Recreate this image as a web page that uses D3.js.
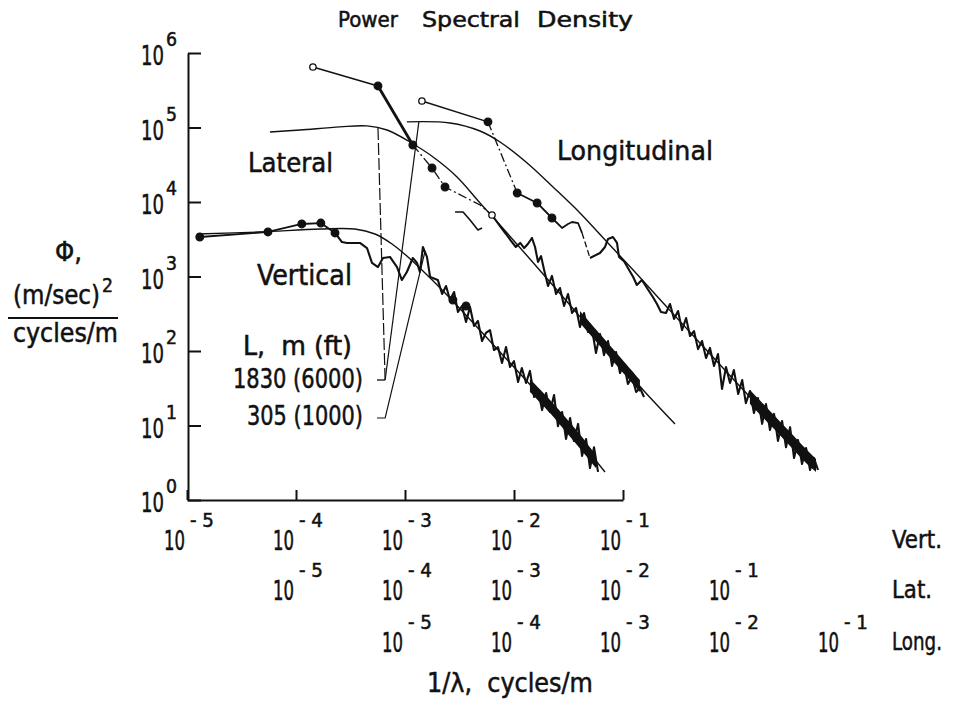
<!DOCTYPE html>
<html>
<head>
<meta charset="utf-8">
<script src="https://cdn.jsdelivr.net/npm/d3@7"></script>
<style>
body { margin: 0; background: #fff; }
svg { display: block; }
text { font-family: "DejaVu Sans Condensed", "DejaVu Sans", sans-serif; font-stretch: condensed; fill: #111; stroke: #111; stroke-width: 0.5; white-space: pre; }
.axis path, .axis line { stroke: #111; stroke-width: 2; }
</style>
</head>
<body>
<svg width="969" height="706"></svg>
<script>
// tick labels
var yTickExp = [0, 1, 2, 3, 4, 5, 6];
var xTickExp = [-5, -4, -3, -2, -1];
var rowNames = ["Vert.", "Lat.", "Long."];

// Vertical  [cycles/m, (m/sec)^2/(cycles/m)]
var vertTheory = [[1.24e-5,3720],[4.67e-5,3960],[1.66e-4,4340],[3.47e-4,4340],[5.3e-4,3720],[7.6e-4,2730],
  [1.04e-3,1880],[1.43e-3,1220],[2.33e-3,601],[7.44e-3,97],[2.64e-2,12.6],[6.84e-2,2.38]];
var vertPoints = [[1.31e-5,3390],[5.53e-5,3960],[1.13e-4,5070],[1.69e-4,5220],[2.28e-4,3840]];
var vertNoisePoints = [[2.75e-3,484],[3.63e-3,402]];
var vertTrace = [[2.28e-4,3840],[2.64e-4,2900],[2.94e-4,2820],[3.86e-4,2820],[4.48e-4,2410],[4.98e-4,1520],
  [5.65e-4,1340],[6.28e-4,1770],[7.28e-4,1830],[8.45e-4,1340],[9.37e-4,897],[1.04e-3,1150],[1.18e-3,1770],
  [1.29e-3,1520],[1.37e-3,1150],[1.46e-3,2490],[1.59e-3,1830],[1.70e-3,985],
  [2.0e-3,900],[2.19e-3,582],[2.38e-3,745],[2.59e-3,484],[2.82e-3,619],[3.06e-3,334],[3.33e-3,402],
  [3.63e-3,245],[3.95e-3,390],[4.3e-3,217],[4.67e-3,253],[5.09e-3,136],[5.53e-3,175],[6.02e-3,191],
  [6.55e-3,103],[7.13e-3,113],[7.76e-3,69],[8.45e-3,113],[9.19e-3,61],[1.0e-2,73],[1.09e-2,38.4],
  [1.18e-2,59],[1.29e-2,37.2],[1.40e-2,54],[1.53e-2,24.1],[1.66e-2,30],[1.81e-2,16.1],[1.97e-2,27.3],
  [2.14e-2,15.2],[2.33e-2,25.7],[2.53e-2,9.8],[2.76e-2,15.2],[3.0e-2,6.6],[3.27e-2,12.6],[3.55e-2,6.2],
  [3.87e-2,10.5],[4.21e-2,3.9],[4.58e-2,6.6],[4.98e-2,2.69],[5.42e-2,5.1],[5.9e-2,2.38]];
var vertBandF = [1.40e-2, 2.14e-2, 3.0e-2, 4.21e-2, 5.65e-2];
var vertBandHi = [42, 22, 12.6, 7.0, 4.0];
var vertBandLo = [28.2, 14.7, 8.2, 4.55, 2.69];

// Lateral
var latTheory = [[5.77e-6,8.7e4],[1.09e-5,9.25e4],[2.53e-5,1.02e5],[4.48e-5,1.05e5],[6.84e-5,9.25e4],
  [1.11e-4,6.39e4],[1.81e-4,4.02e4],[3.0e-4,2.17e4],[4.88e-4,9700],[7.44e-4,4910],[2.14e-3,844],
  [6.15e-3,140],[1.53e-2,30],[3.0e-2,10.5]];
var latOpen = [[1.43e-5,6.49e5],[6.28e-4,6690]];
var latFilled = [[5.65e-5,3.61e5],[1.18e-4,5.82e4],[1.77e-4,2.86e4],[2.33e-4,1.59e4]];
var latTop = [[1.43e-5,6.49e5],[5.65e-5,3.61e5]];
var latDrop = [[5.65e-5,3.61e5],[1.18e-4,5.82e4]];
var latDash = [[1.18e-4,5.82e4],[1.77e-4,2.86e4],[2.33e-4,1.59e4],[4.88e-4,9120],[6.28e-4,6690]];
var latWiggle = [[2.88e-4,7340],[3.41e-4,7340],[3.95e-4,5730],[4.67e-4,4210],[5.09e-4,4480]];
var latTrace = [[6.28e-4,6690],[7.44e-4,4760],[8.45e-4,3720],[9.39e-4,3000],[1.04e-3,2490],[1.14e-3,2820],
  [1.24e-3,2410],[1.34e-3,2730],[1.46e-3,3290],[1.56e-3,2490],[1.66e-3,1570],[1.77e-3,1880],[1.89e-3,1220],
  [2.05e-3,745],[2.23e-3,1020],[2.43e-3,582],[2.64e-3,701],[2.88e-3,402],[3.13e-3,582],[3.41e-3,324],
  [3.71e-3,378],[4.03e-3,210],[4.39e-3,324],[4.78e-3,180],[5.20e-3,197],[5.65e-3,94],[6.15e-3,169],
  [6.69e-3,88],[7.29e-3,136],[7.93e-3,63],[8.63e-3,97],[9.39e-3,50.7],[1.02e-2,67],[1.11e-2,36],
  [1.21e-2,44.8],[1.32e-2,28.2],[1.43e-2,31.9],[1.56e-2,24.1]];
var latBandF = [4.03e-3, 6.15e-3, 9.39e-3, 1.43e-2];
var latBandHi = [344, 169, 83, 40.8];
var latBandLo = [238, 117, 57, 28.2];

// Longitudinal
var longTheory = [[1.04e-5,1.19e5],[2.59e-5,1.15e5],[4.88e-5,8.97e4],[7.44e-5,6.39e4],[1.32e-4,3.34e4],
  [2.28e-4,1.59e4],[4.03e-4,7120],[7.13e-4,2900],[1.24e-3,1220],[2.43e-3,414],[5.08e-3,128],
  [1.46e-2,24.1],[4.2e-2,4.69],[5.42e-2,3.24]];
var longOpen = [[1.43e-5,2.27e5]];
var longFilled = [[5.77e-5,1.19e5],[1.07e-4,1.32e4],[1.63e-4,9700],[2.23e-4,6100]];
var longTop = [[1.43e-5,2.27e5],[5.77e-5,1.19e5]];
var longDash1 = [[5.77e-5,1.19e5],[1.07e-4,1.32e4]];
var longTrace1 = [[1.07e-4,1.32e4],[1.63e-4,9700],[2.23e-4,6100],[2.76e-4,4480],[3.13e-4,5070],
  [3.41e-4,5390],[3.87e-4,5220],[4.21e-4,3840]];
var longDash2 = [[4.21e-4,3840],[4.98e-4,1770]];
var longTrace2 = [[4.98e-4,1770],[6.15e-4,2070],[6.84e-4,2490],[7.29e-4,3190],[8.09e-4,3390],[8.81e-4,2820],
  [9.19e-4,1830],[1.02e-3,1610],[1.11e-3,1300],[1.24e-3,985],[1.34e-3,769],[1.49e-3,897],[1.66e-3,701],
  [1.88e-3,531],[2.05e-3,427],[2.23e-3,334],[2.48e-3,324],
  [2.70e-3,427],[2.94e-3,269],[3.20e-3,344],[3.48e-3,191],[3.79e-3,277],[4.12e-3,159],[4.48e-3,185],
  [4.88e-3,106],[5.31e-3,136],[5.78e-3,80.5],[6.28e-3,110],[6.84e-3,63],[7.44e-3,91],[8.10e-3,30.9],
  [8.81e-3,61],[9.59e-3,37.2],[1.04e-2,55.6],[1.14e-2,26.5],[1.24e-2,40.8],[1.34e-2,20.0],[1.46e-2,29.0],
  [1.59e-2,14.7],[1.73e-2,23.4],[1.89e-2,10.5],[2.05e-2,19.4],[2.23e-2,8.7],[2.43e-2,14.3],[2.64e-2,6.2],
  [2.88e-2,11.5],[3.13e-2,5.1],[3.41e-2,9.5],[3.71e-2,3.66],[4.03e-2,6.4],[4.39e-2,3.04],[4.78e-2,4.99],
  [5.20e-2,2.53],[5.65e-2,3.66],[6.15e-2,2.53]];
var longBandF = [1.46e-2, 2.23e-2, 3.41e-2, 4.78e-2, 5.9e-2];
var longBandHi = [30, 15.7, 8.2, 4.84, 3.55];
var longBandLo = [19.4, 10.2, 5.3, 3.14, 2.38];

// legend leaders (vertical-scale units)
var lead1830Tick = [[5.53e-4,40.8],[6.57e-4,40.8]];
var lead1830Dash = [[6.57e-4,40.8],[5.65e-4,9.85e4]];
var lead1830Solid = [[6.57e-4,40.8],[1.34e-3,1.19e5]];
var lead305 = [[5.53e-4,12.6],[6.57e-4,12.6],[1.52e-3,2130]];

var svg = d3.select("svg");

var xV = d3.scaleLog().domain([1e-5, 1e-1]).range([187, 623]),
    xL = d3.scaleLog().domain([1e-6, 1e-2]).range([187, 623]),
    xG = d3.scaleLog().domain([1e-7, 1e-3]).range([187, 623]),
    y = d3.scaleLog().domain([1, 1e6]).range([500, 53]);

// text squeezed horizontally to the measured width
function txt(x, yy, s, size, len, anchor) {
    var t = svg.append("text").attr("font-size", size).text(s);
    var w = t.node().getComputedTextLength();
    var k = len ? len / w : 1;
    var x0 = anchor == "end" ? x - w * k : x;
    t.attr("transform", "translate(" + x0 + "," + yy + ") scale(" + k + ",1)");
    return t;
}

function path(data, sx, w, dash, smooth) {
    var l = d3.line()
        .x(function(d) { return sx(d[0]); })
        .y(function(d) { return y(d[1]); });
    if (smooth) l.curve(d3.curveCatmullRom.alpha(0.5));
    svg.append("path").datum(data).attr("d", l)
        .attr("fill", "none").attr("stroke", "#111")
        .attr("stroke-width", w).attr("stroke-linejoin", "round")
        .attr("stroke-dasharray", dash || null);
}

function band(f, hi, lo, sx) {
    var a = d3.area()
        .x(function(d, i) { return sx(f[i]); })
        .y0(function(d, i) { return y(lo[i]); })
        .y1(function(d, i) { return y(hi[i]); })
        .curve(d3.curveCatmullRom);
    svg.append("path").datum(f).attr("d", a).attr("fill", "#111");
}

function dots(data, sx, open) {
    svg.append("g").selectAll("circle").data(data).join("circle")
        .attr("cx", function(d) { return sx(d[0]); })
        .attr("cy", function(d) { return y(d[1]); })
        .attr("r", open ? 3.2 : 3.8)
        .attr("fill", open ? "#fff" : "#111")
        .attr("stroke", "#111").attr("stroke-width", 1.3);
}

// axes
svg.append("g").attr("class", "axis").attr("transform", "translate(188,0)")
    .call(d3.axisRight(y).tickValues(yTickExp.map(function(e) { return Math.pow(10, e); }))
        .tickSize(13).tickSizeOuter(0).tickFormat(""));
svg.append("g").attr("class", "axis").attr("transform", "translate(0,500)")
    .call(d3.axisTop(xV).tickValues(xTickExp.map(function(e) { return Math.pow(10, e); }))
        .tickSize(10).tickSizeOuter(0).tickFormat(""));

// y tick labels
yTickExp.forEach(function(e) {
    var ty = y(Math.pow(10, e));
    txt(164, ty + 12, "10", 27, 23, "end");
    txt(166, ty - 7, String(e), 19, 11);
});

// x tick label rows
var rows = [
    {name: rowNames[0], scale: xV, base: 550},
    {name: rowNames[1], scale: xL, base: 600},
    {name: rowNames[2], scale: xG, base: 652}
];
rows.forEach(function(r) {
    xTickExp.forEach(function(e) {
        var tx = r.scale(Math.pow(10, e));
        txt(tx - 23, r.base, "10", 27, 21);
        txt(tx + 3, r.base - 23, "- " + Math.abs(e), 19, 24);
    });
    txt(892, r.base - 2, r.name, 25, r.name.length * 10);
});

// curves
band(vertBandF, vertBandHi, vertBandLo, xV);
band(latBandF, latBandHi, latBandLo, xL);
band(longBandF, longBandHi, longBandLo, xG);

path(vertTheory, xV, 1.4, null, true);
path(latTheory, xL, 1.4, null, true);
path(longTheory, xG, 1.4, null, true);

path(vertPoints, xV, 1.8);
path(vertTrace, xV, 2.1);
path(latTop, xL, 1.5);
path(latDrop, xL, 2.8);
path(latDash, xL, 1.3, "9,3,2,3");
path(latWiggle, xL, 1.6);
path(latTrace, xL, 2.1);
path(longTop, xG, 1.5);
path(longDash1, xG, 1.3, "9,3,2,3");
path(longTrace1, xG, 1.8);
path(longDash2, xG, 1.3, "6,3");
path(longTrace2, xG, 2.1);

dots(vertPoints, xV);
dots(vertNoisePoints, xV);
dots(latFilled, xL);
dots(latOpen, xL, true);
dots(longFilled, xG);
dots(longOpen, xG, true);

// legend leaders
path(lead1830Tick, xV, 1.3);
path(lead1830Dash, xV, 1.2, "12,3");
path(lead1830Solid, xV, 1.2);
path(lead305, xV, 1.2);

// texts
txt(338, 27, "Power", 22, 60);
txt(422, 27, "Spectral", 22, 98);
txt(537, 27, "Density", 22, 96);
txt(248, 172, "Lateral", 27, 85);
txt(557, 160, "Longitudinal", 27, 156);
txt(257, 285, "Vertical", 28, 95);
txt(243, 355, "L,  m (ft)", 26, 109);
txt(233, 388, "1830 (6000)", 27, 130);
txt(247, 425, "305 (1000)", 27, 116);

txt(55, 261, "\u03a6,", 27, 27);
txt(13, 304, "(m/sec)", 26, 87);
txt(102, 292, "2", 19, 11);
svg.append("line").attr("x1", 8).attr("x2", 118).attr("y1", 318).attr("y2", 318)
    .attr("stroke", "#111").attr("stroke-width", 2);
txt(13, 342, "cycles/m", 26, 105);

txt(427, 692, "1/\u03bb,  cycles/m", 26, 166);
</script>
</body>
</html>
